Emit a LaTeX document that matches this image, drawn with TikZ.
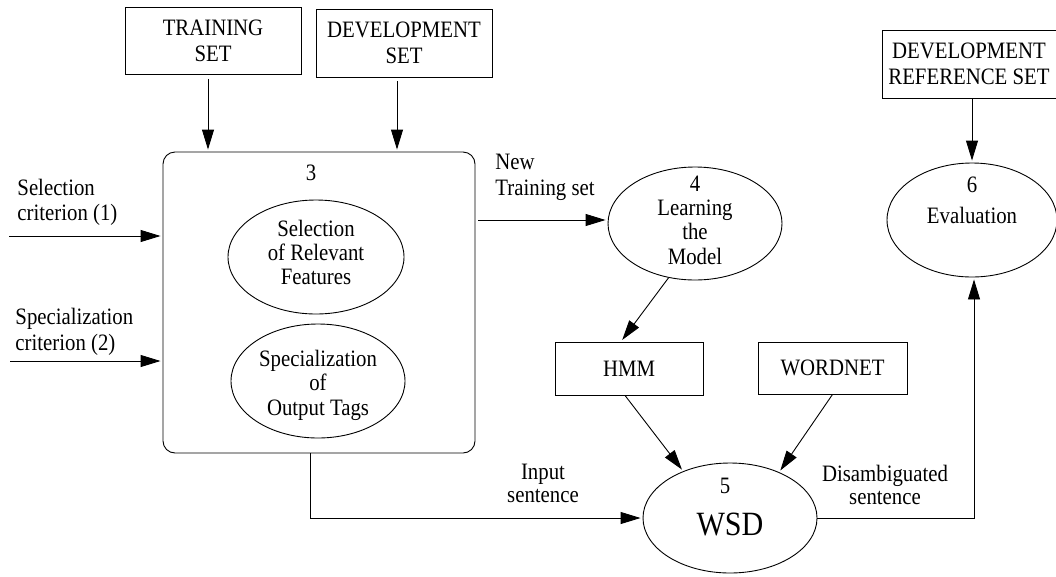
\documentclass[tikz,border=0pt]{standalone}
\usepackage{fontspec}
\setmainfont{Liberation Serif}[FakeStretch=0.885]
\usetikzlibrary{shapes.geometric,arrows.meta,calc}
\begin{document}
\begin{tikzpicture}[x=1pt,y=-1pt, line width=0.9pt,
  font=\fontsize{23.5}{26}\selectfont,
  box/.style={draw, rectangle, inner sep=0pt, align=center},
  oval/.style={draw, ellipse, inner sep=0pt},
  lbl/.style={inner sep=0pt, align=center, font=\fontsize{23.5}{#1}\selectfont},
  lbl/.default=25,
  arr/.style={-{Triangle[length=20pt,width=12pt]}, shorten >=2pt},
]
\clip (0,0) rectangle (1056,576);
\useasboundingbox (0,0) rectangle (1056,576);

% top boxes
\node[box, minimum width=176, minimum height=67] (train) at (213,41) {TRAINING\\SET};
\node[box, minimum width=176, minimum height=68] (dev) at (404,43) {DEVELOPMENT\\SET};

% process box 3
\node[draw, rounded corners=12pt, minimum width=312, minimum height=301, inner sep=0pt] (proc) at (319,302.5) {};
\node[lbl] (n3) at (311,173) {3};
\node[oval, minimum width=176, minimum height=114] (sel) at (316,257) {};
\node[lbl=24] (selt) at (316,252) {Selection\\of Relevant\\Features};
\node[oval, minimum width=174, minimum height=114] (spec) at (318,381) {};
\node[lbl=24.5] (spect) at (318,385) {Specialization\\of\\Output Tags};

\draw[arr] ($(train.south)+(-5,4)$) -- ($(proc.north)+(-111,0)$);
\draw[arr] ($(dev.south)+(-7,4)$) -- ($(proc.north)+(78,0)$);

% criteria
\node[lbl, anchor=west, align=left] (c1t) at (17,202) {Selection\\criterion (1)};
\node[lbl=26, anchor=west, align=left] (c2t) at (15,332) {Specialization\\criterion (2)};
\coordinate (s1) at (9,236);
\coordinate (s2) at (10,361);
\draw[arr] (s1) -- (s1 -| proc.west);
\draw[arr] (s2) -- (s2 -| proc.west);

% learning
\node[oval, minimum width=174, minimum height=113] (e4) at (695,223.5) {};
\node[lbl=24.3] (e4t) at (695,220) {4\\Learning\\the\\Model};
\node[lbl=26, anchor=west, align=left] (ntt) at (495,177) {New\\Training set};
\draw[arr, shorten <=3pt] (proc.east |- 0,220) -- (e4.west |- 0,220);

\node[box, minimum width=148, minimum height=53] (hmm) at (629,368.5) {HMM};
\node[box, minimum width=149, minimum height=52] (wn) at (832.5,368) {WORDNET};
\draw[arr] (e4.244) -- ($(hmm.north)+(-8,0)$);

% evaluation
\node[box, minimum width=174, minimum height=68] (devref) at (969,64) {DEVELOPMENT\\REFERENCE SET};
\node[oval, minimum width=170, minimum height=114] (e6) at (972,220) {};
\node[lbl=31] (e6t) at (972,200) {6\\Evaluation};
\draw[arr] (devref.south -| e6.north) -- (e6.north);

% WSD
\node[oval, minimum width=174, minimum height=110] (wsd) at (730,518) {};
\node[lbl] (n5) at (725,486) {5};
\node[inner sep=0pt, font=\fontsize{34}{36}\selectfont] (wsdt) at (730,524) {WSD};
\draw[arr] ($(hmm.south)+(-4,0)$) -- (wsd.135);
\draw[arr] (wn.south) -- (wsd.43);
\draw[arr] ($(proc.south)+(-9,0)$) |- (wsd.west);
\draw[arr] (wsd.east) -| ($(e6.south)+(2,0)$);
\node[lbl=23] (ins) at (543,483) {Input\\sentence};
\node[lbl=23] (dis) at (885,485) {Disambiguated\\sentence};
\end{tikzpicture}
\end{document}
